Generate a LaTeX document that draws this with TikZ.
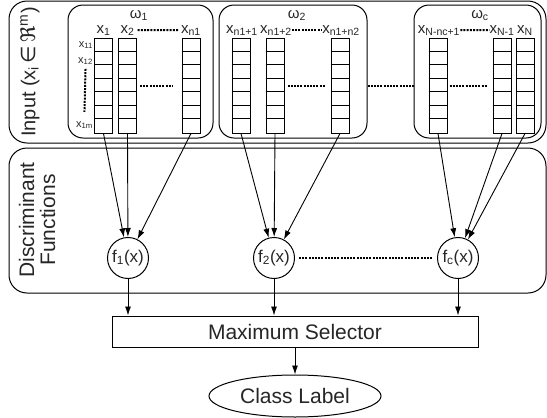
\documentclass[tikz,border=0pt]{standalone}
\usepackage{fontspec}
\setmainfont{Liberation Sans}
\newfontfamily\symfont{DejaVu Sans}
\usetikzlibrary{arrows.meta,shapes.geometric}

\tikzset{
	panel/.style={draw, line width=1pt, rounded corners=18pt, inner sep=0pt},
	group/.style={draw, line width=1pt, rounded corners=15pt, inner sep=0pt},
	cellcol/.style={draw, line width=1pt, minimum width=18pt, minimum height=95pt, inner sep=0pt},
	lbl/.style={font=\fontsize{15}{17}\selectfont, inner sep=0pt},
	small/.style={font=\fontsize{11}{13}\selectfont, inner sep=0pt},
	dots/.style={line width=2pt, dash pattern=on 2pt off 1.2pt},
	fun/.style={draw, circle, line width=1pt, minimum size=41pt, inner sep=0pt, font=\fontsize{17}{20}\selectfont},
	arr/.style={-{Latex[length=9pt,width=6pt]}, line width=0.9pt},
}

\begin{document}
\begin{tikzpicture}[x=1pt, y=-1pt, text=black!85, font=\fontsize{21}{25}\selectfont]
		\useasboundingbox (0,0) rectangle (547,418);

		% the two bands
		\node[panel, minimum width=537pt, minimum height=142pt] (inp) at (277.5,72) {};
		\node[panel, minimum width=537pt, minimum height=145pt] (disc) at (277.5,220.5) {};
		\node[rotate=90, font=\fontsize{20}{24}\selectfont] (inplbl) at (30,72) {Input (x\textsubscript{i}\,{\symfont ∈\,ℜ}\textsuperscript{m})};
		\node[rotate=90, align=center, inner sep=0pt] (disclbl) at (37,220) {Discriminant\\[-4pt]Functions};

		% class groups
		\node[group, minimum width=145pt, minimum height=133pt] (g1) at (140.5,71.5) {};
		\node[group, minimum width=148pt, minimum height=133pt] (g2) at (293,71.5) {};
		\node[group, minimum width=127pt, minimum height=133pt] (gc) at (477.5,71.5) {};
		\node[lbl, anchor=base] (w1) at (139,18) {ω\textsubscript{1}};
		\node[lbl, anchor=base] (w2) at (297,18) {ω\textsubscript{2}};
		\node[lbl, anchor=base] (wc) at (480,18) {ω\textsubscript{c}};

		% feature columns
		\node[cellcol] (c11) at (103.5,85.5) {};
		\node[cellcol] (c12) at (127.5,85.5) {};
		\node[cellcol] (c1n) at (191,85.5) {};
		\node[cellcol] (c21) at (241,85.5) {};
		\node[cellcol] (c22) at (275,85.5) {};
		\node[cellcol] (c2n) at (340,85.5) {};
		\node[cellcol] (cc1) at (438,85.5) {};
		\node[cellcol] (ccm) at (502,85.5) {};
		\node[cellcol] (ccn) at (525,85.5) {};
		\foreach \c in {c11,c12,c1n,c21,c22,c2n,cc1,ccm,ccn}
			\foreach \k in {1,...,6}
				\draw[line width=1pt] (\c.north west) ++(0,\k*13.57) -- ++(18,0);

		% column labels
		\node[lbl, anchor=base] (l11) at (103.5,33) {x\textsubscript{1}};
		\node[lbl, anchor=base] (l12) at (127.5,33) {x\textsubscript{2}};
		\node[lbl, anchor=base] (l1n) at (191,33) {x\textsubscript{n1}};
		\node[lbl, anchor=base] (l21) at (242,33) {x\textsubscript{n1+1}};
		\node[lbl, anchor=base] (l22) at (276,33) {x\textsubscript{n1+2}};
		\node[lbl, anchor=base] (l2n) at (341,33) {x\textsubscript{n1+n2}};
		\node[lbl, anchor=base] (lc1) at (439,33) {x\textsubscript{N-nc+1}};
		\node[lbl, anchor=base] (lcm) at (502,33) {x\textsubscript{N-1}};
		\node[lbl, anchor=base] (lcn) at (525,33) {x\textsubscript{N}};
		\node[small, anchor=base east] (r11) at (93,47) {x\textsubscript{11}};
		\node[small, anchor=base east] (r12) at (93,63) {x\textsubscript{12}};
		\node[small, anchor=base east] (r1m) at (93,127) {x\textsubscript{1m}};

		\draw[dots] ([xshift=3pt]l12.east) -- ([xshift=-2pt]l1n.west);
		\draw[dots] (l22.east) -- (l2n.west);
		\draw[dots] (lc1.east) -- (lcm.west);
		\draw[dots] ([yshift=-4pt]r12.south) -- ([yshift=9pt]r1m.north);
		\draw[dots] ([xshift=3pt]c12.east) -- ([xshift=-9pt]c1n.west);
		\draw[dots] ([xshift=3pt]c22.east) -- ([xshift=-6pt]c2n.west);
		\draw[dots] (g2.east |- c2n) -- (gc.west |- c2n);
		\draw[dots] ([xshift=2pt]cc1.east) -- ([xshift=-5pt]ccm.west);

		% discriminant functions
		\node[fun] (f1) at (128,258) {f\textsubscript{1}(x)};
		\node[fun] (f2) at (274,258) {f\textsubscript{2}(x)};
		\node[fun] (fc) at (458,258) {f\textsubscript{c}(x)};
		\draw[dots] ([xshift=4pt]f2.east) -- ([xshift=-4pt]fc.west);

		\draw[arr] (c11.south) -- (f1);
		\draw[arr] (c12.south) -- (f1);
		\draw[arr] (c1n.south) -- (f1);
		\draw[arr] (c21.south) -- (f2);
		\draw[arr] (c22.south) -- (f2);
		\draw[arr] (c2n.south) -- (f2);
		\draw[arr] (cc1.south) -- (fc);
		\draw[arr] (ccm.south) -- (fc);
		\draw[arr] (ccn.south) -- (fc);

		% selection
		\node[draw, line width=1pt, minimum width=366pt, minimum height=31pt] (sel) at (295,331.5) {Maximum Selector};
		\node[draw, ellipse, line width=1pt, minimum width=172pt, minimum height=42pt, inner sep=0pt] (cls) at (295,396) {Class Label};

		\draw[arr] (f1) -- (f1 |- sel.north);
		\draw[arr] (f2) -- (f2 |- sel.north);
		\draw[arr] (fc) -- (fc |- sel.north);
		\draw[arr] (sel.south) -- (cls.north);
	\end{tikzpicture}
\end{document}
